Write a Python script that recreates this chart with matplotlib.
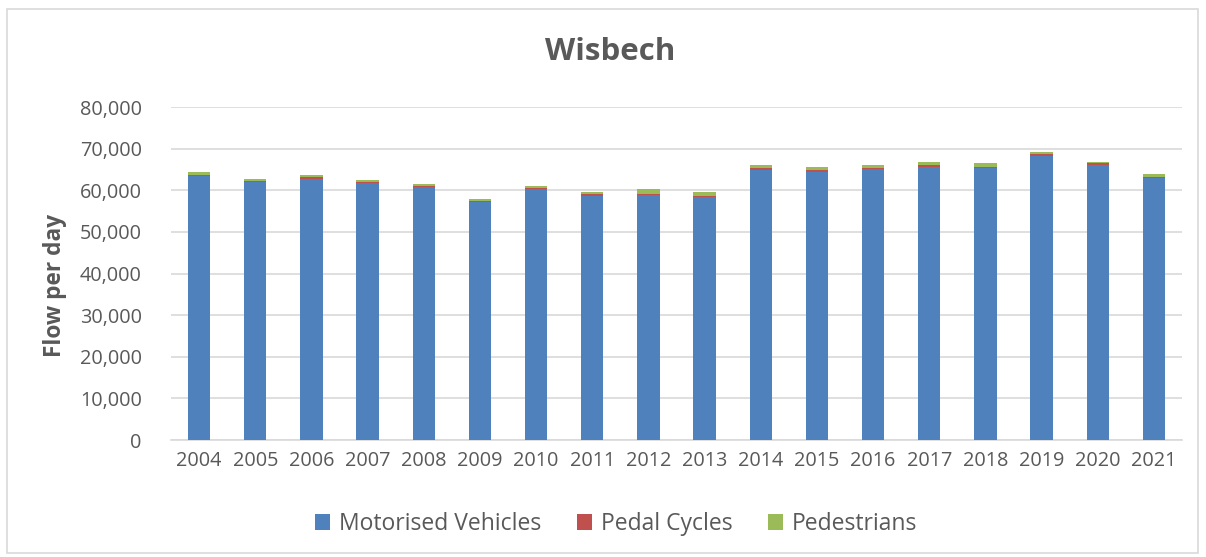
import matplotlib
matplotlib.use("Agg")
import matplotlib.pyplot as plt
from matplotlib.patches import Rectangle
import numpy as np

years = [str(y) for y in range(2004, 2022)]
motorised = [63500, 62000, 62750, 61700, 60730, 57250, 60240, 58550, 58870, 58390,
             64760, 64280, 65000, 65490, 65400, 68150, 66050, 62830]
pedal = [250, 240, 320, 320, 320, 240, 240, 480, 320, 320,
         480, 480, 240, 480, 240, 480, 400, 320]
pedestrians = [550, 480, 560, 480, 480, 400, 640, 560, 1130, 970,
               890, 890, 730, 890, 970, 650, 400, 730]
yticks = [0, 10000, 20000, 30000, 40000, 50000, 60000, 70000, 80000]

plt.rcParams['font.family'] = ['Open Sans', 'DejaVu Sans']
TXT = '#595959'

fig = plt.figure(figsize=(12.06, 5.57), dpi=100)
ax = fig.add_axes([171/1206, 1-440/557, (1182-171)/1206, (440-107)/557])

x = np.arange(len(years))
m = np.array(motorised); p = np.array(pedal); d = np.array(pedestrians)
w = 0.4
ax.bar(x, m, w, color='#4F81BD', label='Motorised Vehicles', zorder=3)
ax.bar(x, p, w, bottom=m, color='#C0504D', label='Pedal Cycles', zorder=3)
ax.bar(x, d, w, bottom=m + p, color='#9BBB59', label='Pedestrians', zorder=3)

ax.set_xlim(-0.5, len(years) - 0.5)
ax.set_ylim(0, 80000)
ax.set_yticks(yticks)
ax.set_yticklabels([f"{v:,}" for v in yticks])
ax.set_xticks(x)
ax.set_xticklabels(years)
ax.tick_params(axis='both', length=0, labelsize=14.3, colors=TXT)
ax.tick_params(axis='y', pad=21)
ax.tick_params(axis='x', pad=8)
ax.grid(axis='y', color='#D9D9D9', linewidth=1.2, zorder=0)
for s in ['top', 'right', 'left']:
    ax.spines[s].set_visible(False)
ax.spines['bottom'].set_color('#D9D9D9')
ax.spines['bottom'].set_linewidth(1.2)

ax.set_ylabel('Flow per day', fontsize=16.3, fontweight='bold', color=TXT)
ax.yaxis.set_label_coords(-0.103, 0.465)
fig.text(0.506, 1-52/557, 'Wisbech', ha='center', va='center', fontsize=22.5,
         fontweight='bold', color=TXT)

leg = fig.legend(loc='center', bbox_to_anchor=(0.511, 1-524/557), ncol=3, frameon=False,
                 fontsize=16.5, handlelength=0.65, handleheight=0.65, columnspacing=1.55,
                 handletextpad=0.4)
for t in leg.get_texts():
    t.set_color(TXT)

fig.patches.append(Rectangle((7/1206, 1-553/557), (1198-7)/1206, (553-9)/557,
                             transform=fig.transFigure, fill=False,
                             edgecolor='#D9D9D9', linewidth=1.2))

fig.savefig('out.png', dpi=100)
